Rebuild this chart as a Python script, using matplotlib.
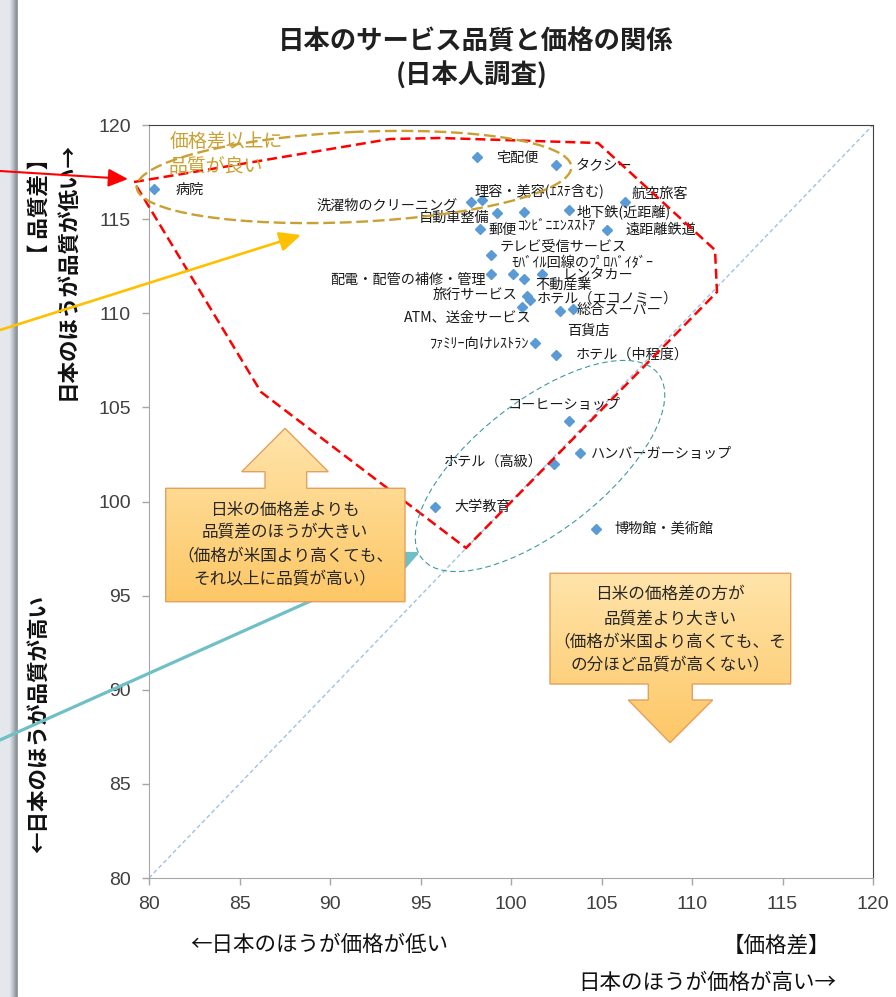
import numpy as np
import matplotlib
matplotlib.use('Agg')
import matplotlib.pyplot as plt
from matplotlib.patches import Ellipse, Polygon
from matplotlib.colors import LinearSegmentedColormap, to_rgb

plt.rcParams['font.family'] = ['Noto Sans CJK JP', 'DejaVu Sans']

# サービス名と日米比（価格差・品質差）
names = ['病院', '宅配便', 'タクシー', '理容・美容(ｴｽﾃ含む)', '洗濯物のクリーニング',
         '自動車整備', 'ｺﾝﾋﾞﾆｴﾝｽｽﾄｱ', '地下鉄(近距離)', '航空旅客', '郵便', '遠距離鉄道',
         'テレビ受信サービス', '配電・配管の補修・管理', 'ﾓﾊﾞｲﾙ回線のﾌﾟﾛﾊﾞｲﾀﾞｰ', '不動産業',
         'レンタカー', '旅行サービス', 'ホテル（エコノミー）', 'ATM、送金サービス', '百貨店',
         '総合スーパー', 'ﾌｧﾐﾘｰ向けﾚｽﾄﾗﾝ', 'ホテル（中程度）', 'コーヒーショップ',
         'ハンバーガーショップ', 'ホテル（高級）', '大学教育', '博物館・美術館']
price = [80.3, 98.1, 102.5, 98.4, 97.8, 99.2, 100.7, 103.2, 106.3, 98.3, 105.3,
         98.9, 98.9, 100.1, 100.7, 101.7, 100.9, 101.05, 100.6, 102.7,
         103.4, 101.3, 102.5, 103.2, 103.8, 102.4, 95.8, 104.7]
quality = [116.6, 118.3, 117.9, 116.0, 115.9, 115.3, 115.4, 115.5, 115.9, 114.5, 114.4,
           113.1, 112.1, 112.1, 111.8, 112.1, 110.9, 110.7, 110.35, 110.1,
           110.2, 108.4, 107.8, 104.3, 102.6, 102.0, 99.7, 98.55]
x_ticks = [80, 85, 90, 95, 100, 105, 110, 115, 120]
y_ticks = [80, 85, 90, 95, 100, 105, 110, 115, 120]

# ラベルの位置（点からのずれ, pixel）
label_pos = [(21, -1, 'left'), (20, -1, 'left'), (19, -1, 'left'), (-8, 10, 'left'),
             (-14, -4, 'right'), (-7, -4, 'right'), (-6, -14, 'left'), (8, -2, 'left'),
             (6, 8, 'left'), (8, -1, 'left'), (19, 1, 'left'), (9, 7, 'left'),
             (-5, -6, 'right'), (-1, 11, 'left'), (12, -5, 'left'), (21, -1, 'left'),
             (-10, 1, 'right'), (7, 1, 'left'), (10, -11, 'right'), (7, -19, 'left'),
             (4, -1, 'left'), (-5, -1, 'right'), (20, 0, 'left'), (-61, 16, 'left'),
             (11, -1, 'left'), (-12, 2, 'right'), (19, 0, 'left'), (18, 0, 'left')]

fig = plt.figure(figsize=(8.96, 9.97), dpi=100)
ax = fig.add_axes([149/896, 1-878/997, 724/896, 753/997])
ax.set_xlim(x_ticks[0], x_ticks[-1])
ax.set_ylim(y_ticks[0], y_ticks[-1])

# 45度線
ax.plot([x_ticks[0], x_ticks[-1]], [y_ticks[0], y_ticks[-1]],
        color='#9DC3E6', lw=1, ls=(0, (3, 2)), zorder=1)
ax.plot(price, quality, ls='none', marker='D', ms=5.5, color='#5B9BD5', zorder=3)
for n, x, y, (dx, dy, ha) in zip(names, price, quality, label_pos):
    ax.annotate(n, (x, y), xytext=(dx, dy), textcoords='offset pixels',
                ha=ha, va='center', fontsize=10.2, color='#1a1a1a')

for s in ['left', 'bottom']:
    ax.spines[s].set_color('#A6A6A6')
for s in ['top', 'right']:
    ax.spines[s].set_color('#404040')
ax.set_xticks(x_ticks)
ax.set_xticklabels([str(t) for t in x_ticks], fontfamily='Liberation Sans')
ax.set_yticks(y_ticks)
ax.set_yticklabels([str(t) for t in y_ticks], fontfamily='Liberation Sans')
ax.tick_params(direction='out', length=5, width=1, color='#A6A6A6',
               labelsize=14, labelcolor='#404040', pad=8)

# 図形・注記用のレイヤー（pixel座標）
ov = fig.add_axes([0, 0, 1, 1], zorder=5)
ov.patch.set_visible(False)
ov.axis('off')

# 左端の影
strip_cols = ['#E4E8ED'] * 10 + ['#D8DCE2', '#CDD2D8', '#C2C7CE', '#B4BAC1', '#A5ABB2', '#979DA4', '#8D939A', '#9AA0A6']
strip = np.array([[to_rgb(c) for c in strip_cols]])
ov.imshow(strip, extent=[0, 18, 997, 0], aspect='auto', zorder=0, interpolation='nearest')

ov.text(476, 42, '日本のサービス品質と価格の関係', ha='center', va='center',
        fontsize=19, fontweight='bold', color='#202020')
ov.text(472, 76, '(日本人調査)', ha='center', va='center',
        fontsize=19, fontweight='bold', color='#202020')

ov.text(40, 148, '【 品質差 】', rotation=90, ha='center', va='top',
        fontsize=15.5, fontweight='bold', color='#111111')
ov.text(68, 142, '日本のほうが品質が低い→', rotation=90, ha='center', va='top',
        fontsize=15.5, fontweight='bold', color='#111111')
ov.text(40, 853, '←日本のほうが品質が高い', rotation=90, ha='center', va='bottom',
        fontsize=15.5, fontweight='bold', color='#111111')
ov.text(190, 945, '←日本のほうが価格が低い', ha='left', va='center', fontsize=15.5, color='#111111')
ov.text(776, 945, '【価格差】', ha='center', va='center', fontsize=15.5, color='#111111')
ov.text(836, 983, '日本のほうが価格が高い→', ha='right', va='center', fontsize=15.5, color='#111111')

# 赤い破線の領域
red_poly = [(134, 182), (390, 139), (440, 138), (598, 143), (715, 250),
            (717, 292), (466, 548), (261, 392)]
ov.add_patch(Polygon(red_poly, closed=True, fill=False, edgecolor='#FF0000',
                     lw=1.8, ls=(0, (4, 2)), zorder=4))

# 楕円
ov.add_patch(Ellipse((354, 177), 435, 90, angle=-2.7, fill=False, edgecolor='#C9A032',
                     lw=1.7, ls=(0, (5, 2)), zorder=4))
ov.add_patch(Ellipse((540, 466), 300, 130, angle=-38, fill=False, edgecolor='#3F9AA2',
                     lw=0.8, ls=(0, (5, 3)), zorder=4))
ov.text(170, 141, '価格差以上に', ha='left', va='center', fontsize=13.6, color='#C9A032', zorder=4)
ov.text(168, 166, '品質が良い', ha='left', va='center', fontsize=13.6, color='#C9A032', zorder=4)

# 矢印
def arrow(tip, start, color, lw, hl, hw):
    ov.annotate('', xy=tip, xytext=start, zorder=4,
                arrowprops=dict(arrowstyle='-|>,head_length=%s,head_width=%s' % (hl, hw),
                                mutation_scale=10, color=color, lw=lw,
                                shrinkA=0, shrinkB=0))

arrow((128, 179), (0, 171), '#FF0000', 1.5, 1.2, 0.55)
arrow((301, 235), (0, 330), '#FFC000', 1.9, 1.3, 0.6)
arrow((420, 552), (0, 740), '#6FBFC6', 2.3, 1.3, 0.6)

# ブロック矢印
grad_cmap = LinearSegmentedColormap.from_list('g', ['#FFE4AA', '#FDC766'])

def block(verts, text_lines, cx, ys):
    poly = Polygon(verts, closed=True, facecolor='none', edgecolor='#E69F5C', lw=1, zorder=6)
    ov.add_patch(poly)
    xs = [v[0] for v in verts]
    yv = [v[1] for v in verts]
    g = np.linspace(0, 1, 200).reshape(-1, 1)
    im = ov.imshow(g, cmap=grad_cmap, extent=[min(xs), max(xs), max(yv), min(yv)],
                   aspect='auto', zorder=5.5, origin='upper')
    im.set_clip_path(poly)
    for t, y in zip(text_lines, ys):
        ov.text(cx, y, t, ha='center', va='center', fontsize=12, color='#262626', zorder=7)

up_verts = [(165.7, 601.7), (405, 601.7), (405, 488.3), (306.7, 488.3), (306.7, 471.7),
            (328.3, 471.7), (285, 428.3), (241.7, 471.7), (265, 471.7), (265, 488.3),
            (165.7, 488.3)]
block(up_verts, ['日米の価格差よりも', '品質差のほうが大きい',
                 '（価格が米国より高くても、', 'それ以上に品質が高い）'],
      285, [510, 533, 557, 580])

down_verts = [(550, 573.3), (790.7, 573.3), (790.7, 684), (692.3, 684), (692.3, 700),
              (712.7, 700), (670, 742.7), (628.3, 700), (648.3, 700), (648.3, 684),
              (550, 684)]
block(down_verts, ['日米の価格差の方が', '品質差より大きい',
                   '（価格が米国より高くても、そ', 'の分ほど品質が高くない）'],
      670, [594, 619, 643, 666])

ov.set_xlim(0, 896)
ov.set_ylim(997, 0)

fig.savefig('out.png', dpi=100)
